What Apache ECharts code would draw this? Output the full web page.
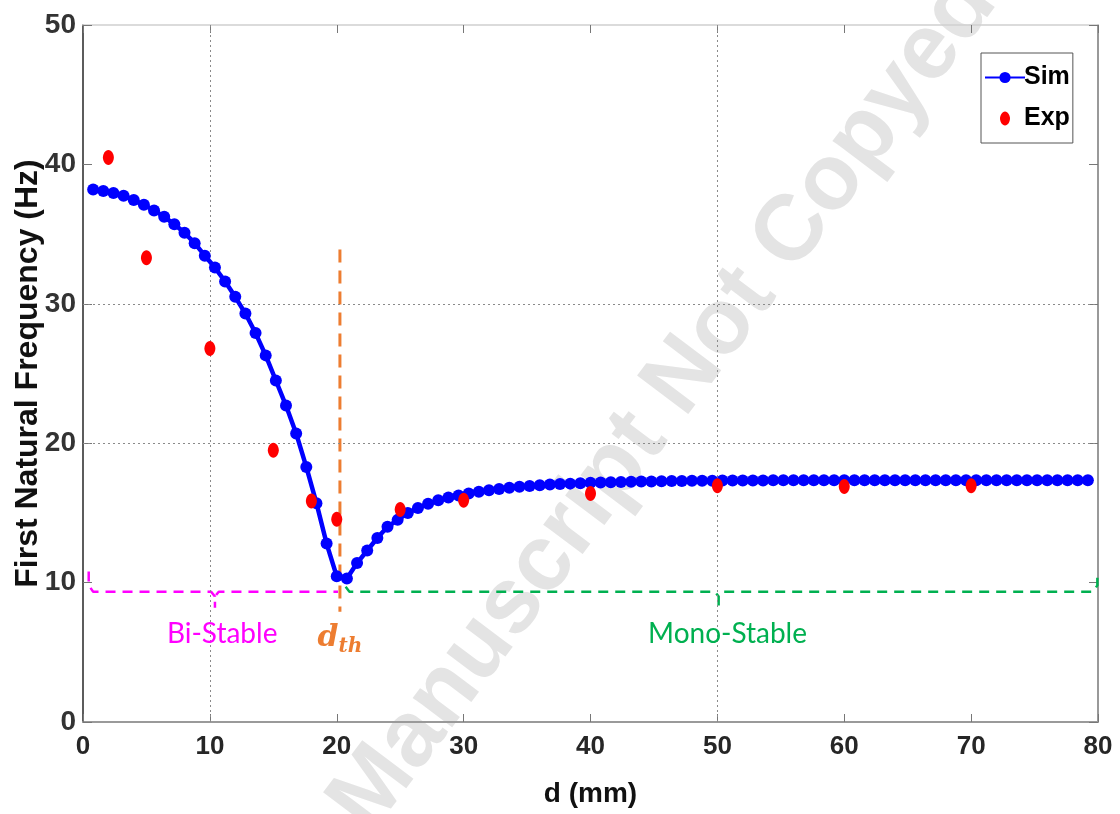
<!DOCTYPE html>
<html>
<head>
<meta charset="utf-8">
<script src="https://cdn.jsdelivr.net/npm/echarts@6/dist/echarts.min.js"></script>
<style>
html,body{margin:0;padding:0;background:#fff;}
#chart{width:1120px;height:814px;}
</style>
</head>
<body>
<div id="chart"></div>
<script>
// ---- data ----
const simD = [0.8,1.6,2.4,3.2,4.0,4.8,5.6,6.4,7.2,8.0,8.8,9.6,10.4,11.2,12.0,12.8,13.6,14.4,15.2,16.0,16.8,17.6,18.4,19.2,20.0,
  20.8,21.6,22.4,23.2,24.0,24.8,25.6,26.4,27.2,28.0,28.8,29.6,30.4,31.2,32.0,32.8,33.6,34.4,35.2,36.0,36.8,37.6,38.4,39.2,40.0,
  40.8,41.6,42.4,43.2,44.0,44.8,45.6,46.4,47.2,48.0,48.8,49.6,50.4,51.2,52.0,52.8,53.6,54.4,55.2,56.0,56.8,57.6,58.4,59.2,60.0,
  60.8,61.6,62.4,63.2,64.0,64.8,65.6,66.4,67.2,68.0,68.8,69.6,70.4,71.2,72.0,72.8,73.6,74.4,75.2,76.0,76.8,77.6,78.4,79.2];
const simF = [38.2,38.1,37.95,37.75,37.45,37.1,36.7,36.25,35.7,35.1,34.35,33.45,32.6,31.6,30.5,29.3,27.9,26.3,24.5,22.7,20.7,18.3,15.7,12.8,10.45,
  10.3,11.4,12.3,13.2,14.0,14.5,15.0,15.35,15.65,15.9,16.1,16.25,16.4,16.52,16.63,16.72,16.8,16.87,16.93,16.98,17.03,17.07,17.1,17.13,17.16,
  17.18,17.2,17.22,17.24,17.25,17.26,17.27,17.28,17.29,17.3,17.31,17.31,17.32,17.32,17.33,17.33,17.33,17.34,17.34,17.34,17.34,17.34,17.35,17.35,17.35,
  17.35,17.35,17.35,17.35,17.35,17.35,17.35,17.35,17.35,17.35,17.35,17.35,17.35,17.35,17.35,17.35,17.35,17.35,17.35,17.35,17.35,17.35,17.35,17.35];
const expD = [2,5,10,15,18,20,25,30,40,50,60,70];
const expF = [40.5,33.3,26.8,19.5,15.85,14.55,15.25,15.9,16.4,16.95,16.9,16.95];
const xTicks = [0,10,20,30,40,50,60,70,80];
const yTicks = [0,10,20,30,40,50];
const gridX = [10,50];
const gridY = [20,30];
const dTh = 20.25;

const simData = simD.map((d,i)=>[d,simF[i]]);
const expData = expD.map((d,i)=>[d,expF[i]]);

const chart = echarts.init(document.getElementById('chart'), null, {renderer:'canvas'});
const AX = '#262626';
const ellipse = 'path://M5,0 C8,0 10,4 10,7 C10,10 8,14 5,14 C2,14 0,10 0,7 C0,4 2,0 5,0 Z';

function dashed(name, pts, color, width, dash){
  return {type:'line', name:name, data:pts, symbol:'none', silent:true, z:3,
    lineStyle:{color:color, width:width, type:dash}, animation:false, legendHoverLink:false};
}

const option = {
  animation:false,
  backgroundColor:'#fff',
  grid:{left:83, right:22, top:25, bottom:92, containLabel:false, outerBoundsMode:'none'},
  xAxis:[{
    type:'value', min:xTicks[0], max:xTicks[xTicks.length-1], interval:10, position:'bottom',
    axisLine:{show:true, onZero:false, lineStyle:{color:'#9a9a9a', width:2}},
    axisTick:{show:true, inside:true, length:8, lineStyle:{color:'#777'}},
    axisLabel:{fontSize:26, fontWeight:'bold', color:AX, margin:12, fontFamily:'"Liberation Sans Narrow","Liberation Sans",Arial'},
    splitLine:{show:false},
    name:'d (mm)', nameLocation:'middle', nameGap:58, nameMoveOverlap:false,
    nameTextStyle:{fontSize:28, fontWeight:'bold', color:'#111', fontFamily:'"Liberation Sans Narrow","Liberation Sans",Arial'}
  },{
    type:'value', min:0, max:80, interval:10, position:'top',
    axisLine:{show:true, onZero:false, lineStyle:{color:'#cfcfcf', width:1.5}},
    axisTick:{show:true, inside:true, length:8, lineStyle:{color:'#777'}},
    axisLabel:{show:false}, splitLine:{show:false}
  }],
  yAxis:[{
    type:'value', min:yTicks[0], max:yTicks[yTicks.length-1], interval:10, position:'left',
    axisLine:{show:true, onZero:false, lineStyle:{color:AX, width:1.5}},
    axisTick:{show:true, inside:true, length:9, lineStyle:{color:'#777'}},
    axisLabel:{fontSize:28, fontWeight:'bold', color:'#333', margin:7, fontFamily:'"Liberation Sans",Arial'},
    splitLine:{show:false},
    name:'First Natural Frequency (Hz)', nameLocation:'middle', nameGap:39, nameMoveOverlap:false,
    nameTextStyle:{fontSize:32, fontWeight:'bold', color:'#111', fontFamily:'"Liberation Sans",Arial'}
  },{
    type:'value', min:0, max:50, interval:10, position:'right',
    axisLine:{show:true, onZero:false, lineStyle:{color:'#777', width:1.5}},
    axisTick:{show:true, inside:true, length:9, lineStyle:{color:'#777'}},
    axisLabel:{show:false}, splitLine:{show:false}
  }],
  legend:{
    data:['Sim','Exp'], orient:'vertical', left:981, top:53,
    backgroundColor:'#fff', borderColor:'#555', borderWidth:1, borderRadius:0,
    padding:[12,3,12,3], itemGap:16, itemWidth:40, itemHeight:14,
    textStyle:{fontSize:25, fontWeight:'bold', color:'#000', fontFamily:'"Liberation Sans",Arial', padding:[0,0,0,-6]},
    selectedMode:false
  },
  series:[
    {type:'line', name:'grid', data:[], silent:true, z:1,
      markLine:{silent:true, symbol:'none', label:{show:false}, animation:false,
        lineStyle:{color:'#8a8a8a', width:1, type:[2,3]},
        data: gridX.map(v=>({xAxis:v})).concat(gridY.map(v=>({yAxis:v})))}},
    dashed('thr', [[dTh,33.9],[dTh,7.9]], '#ED7D31', 3, [13,8]),
    dashed('bi', [[0.45,10.8],[0.45,9.8],[0.8,9.35],[10.1,9.35],[10.4,9.0],[10.4,8.2],[10.4,9.0],[10.7,9.35],[20.1,9.35]], '#FF00FF', 2.5, [10,7]),
    dashed('mono', [[20.7,9.7],[21.0,9.35],[49.8,9.35],[50.1,9.0],[50.1,8.2],[50.1,9.0],[50.4,9.35],[79.6,9.35],[79.95,9.8],[79.95,10.8]], '#00B050', 2.5, [10,7]),
    {type:'line', name:'Sim', data:simData, z:5,
      symbol:'circle', symbolSize:12, showAllSymbol:true,
      lineStyle:{color:'#0000FF', width:4.5}, itemStyle:{color:'#0000FF', opacity:1}},
    {type:'scatter', name:'Exp', data:expData, z:6,
      symbol:ellipse, symbolSize:[11,15], itemStyle:{color:'#FF0000', opacity:1}}
  ]
};
chart.setOption(option);

function px(p){ return chart.convertToPixel({gridIndex:0}, p); }
const pBi = px([10.97,6.3]);
const pMono = px([50.8,6.3]);
const pTh = px([dTh,5.9]);
chart.setOption({
  graphic:[
    {type:'text', z:-10, silent:true, x:580, y:515, rotation:53*Math.PI/180,
      style:{text:'Accepted Manuscript Not Copyedited', fill:'#e4e4e4',
        font:'bold 93px "Liberation Sans", Arial', align:'center', verticalAlign:'middle',
        textAlign:'center', textVerticalAlign:'middle'}},
    {type:'text', z:10, silent:true, x:pBi[0], y:pBi[1],
      style:{text:'Bi-Stable', fill:'#FF00FF', font:'28px Lato, "Open Sans", sans-serif',
        align:'center', verticalAlign:'middle', textAlign:'center', textVerticalAlign:'middle'}},
    {type:'text', z:10, silent:true, x:pMono[0], y:pMono[1],
      style:{text:'Mono-Stable', fill:'#00B050', font:'28px Lato, "Open Sans", sans-serif',
        align:'center', verticalAlign:'middle', textAlign:'center', textVerticalAlign:'middle'}},
    {type:'text', z:10, silent:true, x:pTh[0], y:pTh[1],
      style:{text:'{d|d}{s|th}', align:'center', verticalAlign:'middle', textAlign:'center', textVerticalAlign:'middle',
        rich:{
          d:{fill:'#ED7D31', font:'italic bold 30px "DejaVu Serif", serif', verticalAlign:'top', lineHeight:34},
          s:{fill:'#ED7D31', font:'italic bold 20px "DejaVu Serif", serif', verticalAlign:'bottom', lineHeight:34, padding:[12,0,0,0]}
        }}}
  ]
});
</script>
</body>
</html>
